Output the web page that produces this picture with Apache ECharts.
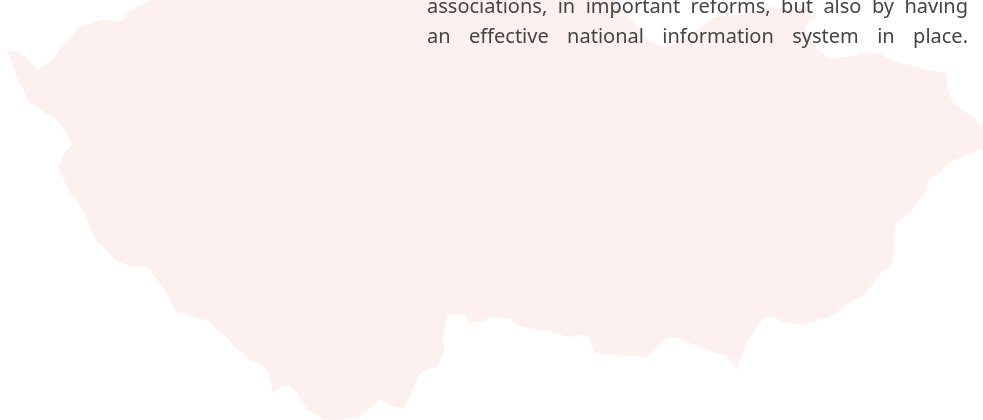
<!DOCTYPE html>
<html>
<head>
<meta charset="utf-8">
<style>
  html, body { margin: 0; padding: 0; background: #fff; }
  #main { width: 983px; height: 420px; }
</style>
<script src="https://cdn.jsdelivr.net/npm/echarts@6/dist/echarts.min.js"></script>
</head>
<body>
<div id="main"></div>
<script>
// outline, clockwise from the west tip
const outlineX = [8, 20, 27, 38, 52, 60, 78, 88, 102, 123, 128, 150, 612, 625, 638, 650, 667, 675, 700, 715, 745, 772, 812, 815, 808, 805, 818, 830, 858, 860, 863, 878, 895, 947, 947, 953, 967, 975, 978, 983, 983, 950, 928, 927, 912, 895, 893, 890, 883, 865, 850, 833, 813, 800, 783, 772, 763, 747, 737, 727, 713, 677, 668, 648, 643, 595, 588, 577, 570, 547, 517, 511, 491, 483, 470, 468, 465, 447, 443, 444, 443, 437, 423, 418, 404, 395, 380, 358, 327, 325, 307, 297, 290, 283, 273, 268, 257, 250, 243, 233, 227, 217, 207, 193, 183, 177, 163, 150, 143, 132, 115, 110, 97, 87, 83, 70, 58, 60, 65, 73, 66, 58, 45, 30, 18];
const outlineY = [51, 52, 58, 70, 60, 49, 28, 24, 20, 21, 12, 0, 0, 13, 27, 42, 48, 43, 28, 17, 14, 7, 10, 18, 22, 28, 50, 59, 55, 50, 53, 53, 62, 74, 88, 103, 113, 117, 123, 125, 148, 162, 182, 190, 210, 224, 261, 267, 271, 294, 302, 315, 322, 325, 322, 316, 318, 342, 369, 356, 352, 338, 337, 356, 357, 353, 336, 335, 337, 331, 326, 319, 317, 321, 323, 322, 315, 314, 335, 352, 352, 367, 371, 376, 409, 407, 400, 418, 420, 420, 409, 393, 386, 386, 393, 371, 362, 360, 353, 345, 337, 330, 320, 317, 313, 312, 288, 270, 266, 267, 260, 253, 242, 220, 210, 193, 166, 165, 152, 144, 132, 120, 113, 102, 80];
const textLines = [
  "associations, in important reforms, but also by having",
  "an effective national information system in place."
];
// only the tails of a line above the crop are visible at the top edge
const clippedTails = ["y", "p", "y"];
const tailX = [194, 272, 301];
const shapeColor = "#fcf1ee";
const textColor = "#444444";
const textFont = "20px 'Noto Sans'";

const chart = echarts.init(document.getElementById("main"));
const measure = document.createElement("canvas").getContext("2d");
measure.font = textFont;

function textEl(text, x, middle) {
  return { type: "text", x: x, y: middle, silent: true, z: 10,
    style: { text: text, font: textFont, fill: textColor, verticalAlign: "middle" } };
}

// the paragraph is justified between these two edges
function justify(line, left, right, middle) {
  const words = line.split(" ");
  const widths = words.map((w) => measure.measureText(w).width);
  const gap = (right - left - widths.reduce((a, b) => a + b, 0)) / (words.length - 1);
  let x = left;
  return words.map((w, i) => {
    const el = textEl(w, x, middle);
    x += widths[i] + gap;
    return el;
  });
}

chart.setOption({
  animation: false,
  grid: { left: 0, right: 0, top: 0, bottom: 0 },
  xAxis: { type: "value", min: 0, max: 983, show: false },
  yAxis: { type: "value", min: 0, max: 420, inverse: true, show: false },
  series: [
    {
      type: "custom",
      coordinateSystem: "cartesian2d",
      silent: true,
      data: [[0]],
      renderItem: (params, api) => ({
        type: "polygon",
        shape: { points: outlineX.map((x, i) => api.coord([x, outlineY[i]])) },
        style: { fill: shapeColor },
      }),
    },
  ],
  graphic: justify(textLines[0], 427, 968, 7)
    .concat(justify(textLines[1], 427, 968, 37))
    .concat(clippedTails.map((t, i) => textEl(t, tailX[i], -12))),
});
</script>
</body>
</html>
